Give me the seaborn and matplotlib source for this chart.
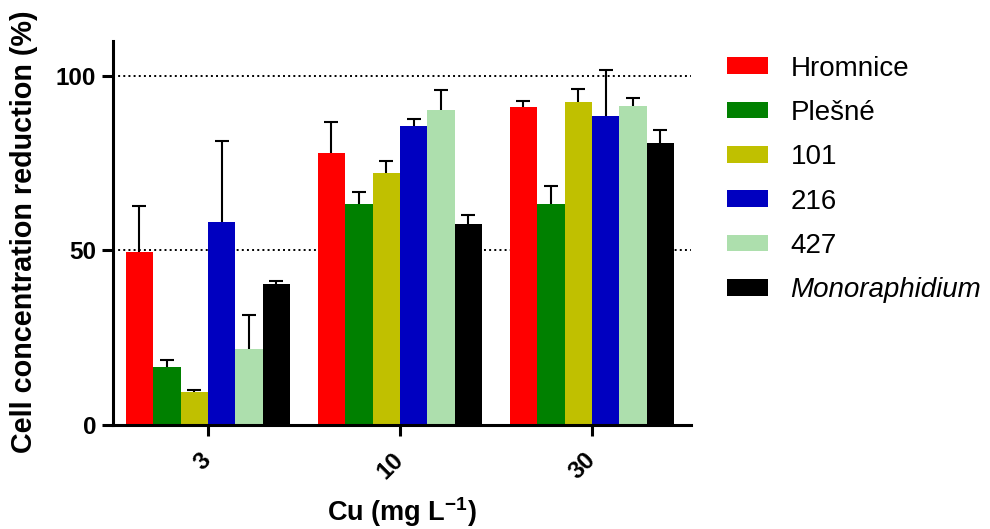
import matplotlib
matplotlib.use('Agg')
import matplotlib.pyplot as plt
import seaborn as sns
import pandas as pd

# Values
concentrations = ['3', '10', '30']
strains = ['Hromnice', 'Plešné', '101', '216', '427', 'Monoraphidium']
colors = ['#ff0000', '#008000', '#c0c000', '#0000c0', '#addfad', '#000000']

hromnice_mean = [49.6, 77.8, 91.2]
plesne_mean = [16.6, 63.4, 63.4]
s101_mean = [9.4, 72.3, 92.6]
s216_mean = [58.0, 85.7, 88.4]
s427_mean = [21.6, 90.2, 91.4]
mono_mean = [40.3, 57.6, 80.9]

hromnice_err = [13.1, 9.1, 1.7]
plesne_err = [2.1, 3.3, 4.9]
s101_err = [0.5, 3.4, 3.5]
s216_err = [23.4, 2.0, 13.3]
s427_err = [9.8, 5.7, 2.2]
mono_err = [0.9, 2.5, 3.5]

means = [hromnice_mean, plesne_mean, s101_mean, s216_mean, s427_mean, mono_mean]
errs = [hromnice_err, plesne_err, s101_err, s216_err, s427_err, mono_err]

rows = []
for strain, m_list, e_list in zip(strains, means, errs):
    for conc, m, e in zip(concentrations, m_list, e_list):
        rows.append({'conc': conc, 'strain': strain, 'mean': m, 'err': e})
df = pd.DataFrame(rows)

sns.set_style('ticks')
plt.rcParams['font.family'] = ['Liberation Sans', 'DejaVu Sans']
plt.rcParams['mathtext.fontset'] = 'custom'
plt.rcParams['mathtext.rm'] = 'Liberation Sans'
plt.rcParams['mathtext.bf'] = 'Liberation Sans:bold'
for key in ('text.color', 'axes.labelcolor', 'axes.edgecolor',
            'xtick.color', 'ytick.color'):
    plt.rcParams[key] = 'black'

fig, ax = plt.subplots(figsize=(9.9, 5.29), dpi=100)
fig.subplots_adjust(left=0.114, right=0.698, bottom=0.197, top=0.9225)

# dotted reference lines behind the bars
for yv in (50, 100):
    ax.axhline(yv, color='black', linestyle=':', linewidth=1.4, zorder=0)

sns.barplot(data=df, x='conc', y='mean', hue='strain', order=concentrations,
            hue_order=strains, palette=colors, width=0.856, errorbar=None,
            saturation=1, linewidth=0, ax=ax, zorder=2)

# upper-only error bars from the bar geometry
bar_containers = list(ax.containers)
for cont, e_list in zip(bar_containers, errs):
    xs = [p.get_x() + p.get_width() / 2 for p in cont.patches]
    hs = [p.get_height() for p in cont.patches]
    _, caps, _ = ax.errorbar(xs, hs, yerr=[[0] * len(e_list), e_list],
                             fmt='none', ecolor='black', elinewidth=1.5,
                             capsize=4.7, capthick=1.5, zorder=3)
    caps[0].set_visible(False)

ax.set_xlim(-0.495, 2.516)
ax.set_ylim(0, 110)
ax.set_yticks([0, 50, 100])
sns.despine(ax=ax)
for side in ('left', 'bottom'):
    ax.spines[side].set_linewidth(2.2)
ax.tick_params(axis='both', width=2.2, length=8, pad=4, labelsize=17.5)
for lbl in ax.get_yticklabels():
    lbl.set_fontweight('bold')
ax.set_xticks(range(len(concentrations)))
ax.set_xticklabels(concentrations, rotation=45, ha='right', va='center',
                   rotation_mode='anchor', fontweight='bold', fontsize=17.5)
ax.tick_params(axis='x', pad=15)

ax.set_ylabel('Cell concentration reduction (%)', fontsize=20.7, fontweight='bold')
ax.yaxis.set_label_coords(-0.13, 0.504)
ax.set_xlabel(r'Cu (mg L$^{\mathbf{-1}}$)', fontsize=19.5, fontweight='bold',
              va='top')
ax.xaxis.set_label_coords(0.5, -0.183)

handles, labels = ax.get_legend_handles_labels()
leg = ax.legend(handles, labels, loc='upper left',
                bbox_to_anchor=(0.734, 0.895), bbox_transform=fig.transFigure,
                frameon=False, fontsize=20, borderpad=0, borderaxespad=0,
                handlelength=1.5, handleheight=0.55, handletextpad=0.8,
                labelspacing=0.66)
leg.get_texts()[-1].set_fontstyle('italic')

plt.savefig('out.png', dpi=100)
plt.close()
